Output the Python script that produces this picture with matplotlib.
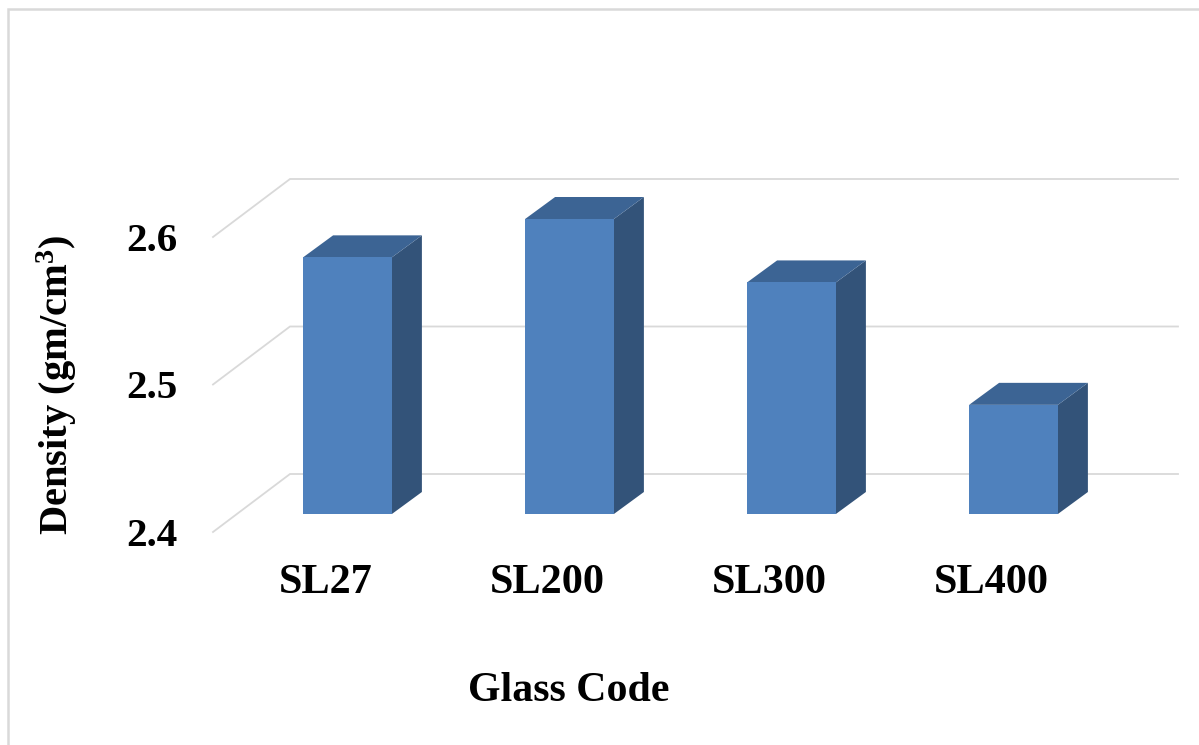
import matplotlib
matplotlib.use('Agg')
import matplotlib.pyplot as plt
from matplotlib.lines import Line2D
from matplotlib.patches import Polygon

plt.rcParams['font.family'] = ['Liberation Serif', 'DejaVu Serif']
plt.rcParams['font.weight'] = 'bold'
plt.rcParams['mathtext.fontset'] = 'custom'
plt.rcParams['mathtext.rm'] = 'Liberation Serif:bold'
plt.rcParams['mathtext.default'] = 'rm'

glass_codes = ['SL27', 'SL200', 'SL300', 'SL400']
density = [2.574, 2.60, 2.557, 2.474]
density_ticks = [2.4, 2.5, 2.6]
tick_labels = ['2.4', '2.5', '2.6']

W, H = 1199, 745
FRONT = '#4f81bd'
SIDE = '#335379'
TOP = '#3c6494'
GRID = '#d9d9d9'

fig = plt.figure(figsize=(W / 100, H / 100), dpi=100)
fig.patch.set_facecolor('white')

# axes frame is the plane of the bar fronts
ax = fig.add_axes([236.5 / W, (H - 514) / H, 888 / W, 295 / H])
ax.set_xlim(-0.5, 3.5)
ax.set_ylim(2.4, 2.6)
ax.axis('off')

# oblique offsets of the 3d look, in data units
bar_w = 0.4
dx = 30 / 222
dy = 22 / 1475
wall_dx = 53.5 / 222
wall_dy = 40 / 1475
floor_dx = -23.5 / 222
floor_dy = -18 / 1475

# back wall gridlines and floor diagonals
for t in density_ticks:
    ax.plot([-0.5 + floor_dx, -0.5 + wall_dx, 3.5 + wall_dx],
            [t + floor_dy, t + wall_dy, t + wall_dy],
            color=GRID, lw=1.3, clip_on=False, zorder=1, solid_joinstyle='miter')

ax.bar(range(len(glass_codes)), [d - 2.4 for d in density], bar_w, bottom=2.4,
       color=FRONT, clip_on=False, zorder=4)

for i, d in enumerate(density):
    l = i - bar_w / 2
    r = i + bar_w / 2
    side = [(r, 2.4), (r + dx, 2.4 + dy), (r + dx, d + dy), (r, d)]
    top = [(l, d), (r, d), (r + dx, d + dy), (l + dx, d + dy)]
    ax.add_patch(Polygon(side, closed=True, fc=SIDE, ec='none', clip_on=False, zorder=3))
    ax.add_patch(Polygon(top, closed=True, fc=TOP, ec='none', clip_on=False, zorder=3))

for i, name in enumerate(glass_codes):
    ax.annotate(name, (i, 2.4), xytext=(-22, -69), textcoords='offset pixels',
                ha='center', va='center', fontsize=30.4, fontweight='bold', color='black',
                annotation_clip=False)

for t, lab in zip(density_ticks, tick_labels):
    ax.annotate(lab, (-0.5, t), xytext=(-85, -22), textcoords='offset pixels',
                ha='center', va='center', fontsize=29.6, fontweight='bold', color='black',
                annotation_clip=False)

fig.text(568.5 / W, 1 - 691 / H, 'Glass Code', ha='center', va='center',
         fontsize=30.2, fontweight='bold', color='black')
fig.text(56.5 / W, 1 - 385 / H, 'Density (gm/cm$^{3}$)', rotation=90, ha='center', va='center',
         fontsize=29.2, fontweight='bold', color='black')

# thin frame, open at the right and bottom
fig.add_artist(Line2D([8 / W, 8 / W, 1], [0, 1 - 9 / H, 1 - 9 / H],
                      transform=fig.transFigure, color=GRID, lw=1.8, solid_joinstyle='miter'))

fig.savefig('out.png', dpi=100)
plt.close()
